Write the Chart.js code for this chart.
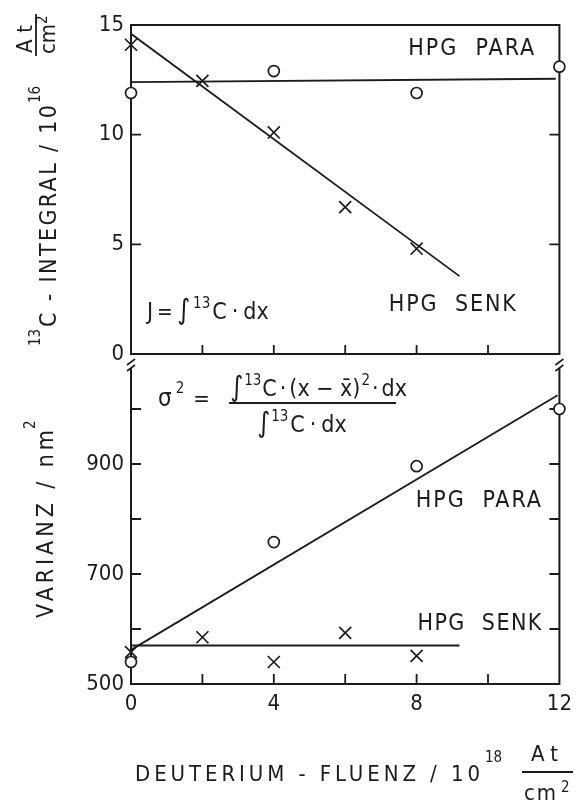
<!DOCTYPE html>
<html>
<head>
<meta charset="utf-8">
<script src="https://cdn.jsdelivr.net/npm/chart.js@4.4.1/dist/chart.umd.min.js"></script>
<style>
  html, body { margin: 0; background: #fff; }
  #wrap { width: 579px; height: 802px; }
</style>
</head>
<body>
<div id="wrap"><canvas id="chart" width="579" height="802"></canvas></div>
<script>
// fluence in 10^18 At/cm^2
const paraX = [0, 4, 8, 12];
const senkX = [0, 2, 4, 6, 8];

// 13C integral, 10^16 At/cm^2
const integralPara = [11.9, 12.9, 11.9, 13.1];
const integralSenk = [14.1, 12.45, 10.1, 6.7, 4.8];

// variance, nm^2
const varianzPara = [540, 758, 896, 1000];
const varianzSenk = [558, 585, 540, 593, 551];

// fitted lines (start / end)
const fitIntParaX = [0, 11.9],  fitIntParaY = [12.4, 12.55];
const fitIntSenkX = [0, 9.2],   fitIntSenkY = [14.6, 3.55];
const fitVarParaX = [0, 11.95], fitVarParaY = [562, 1025];
const fitVarSenkX = [0, 9.2],   fitVarSenkY = [570, 570];

// tick labels
const xTickLabels = [0, 4, 8, 12];
const yTopTickLabels = [0, 5, 10, 15];
const yBotTickLabels = [500, 700, 900];

const ink = '#1c1c1c';
const FONT = "'DejaVu Sans Condensed', 'DejaVu Sans', sans-serif";

const pts = (xs, ys) => xs.map((x, i) => ({ x: x, y: ys[i] }));

function markers(data, axis, style) {
  return {
    data: data, yAxisID: axis, showLine: false, clip: false,
    pointStyle: style, pointRadius: style === 'circle' ? 5.5 : 8.5,
    pointBorderWidth: 1.7, pointBorderColor: ink,
    pointBackgroundColor: '#fff'
  };
}
function fit(data, axis) {
  return {
    data: data, yAxisID: axis, showLine: true, pointRadius: 0,
    borderColor: ink, borderWidth: 1.8, tension: 0
  };
}

// text helpers
function fitText(ctx, str, x, y, w, font, align) {
  ctx.font = font;
  ctx.letterSpacing = '0px';
  const n = [...str].length;
  const nat = ctx.measureText(str).width;
  const ls = n > 1 ? (w - nat) / (n - 1) : 0;
  ctx.letterSpacing = ls + 'px';
  const left = align === 'center' ? x - w / 2 : (align === 'right' ? x - w : x);
  ctx.textAlign = 'left';
  ctx.fillText(str, left, y);
  ctx.letterSpacing = '0px';
}
function runs(ctx, list, x, y) {
  let cx = x;
  for (const r of list) {
    ctx.font = r.size + 'px ' + FONT;
    ctx.fillText(r.t, cx, y - (r.up || 0));
    cx += ctx.measureText(r.t).width + (r.gap || 0);
  }
  return cx - x;
}

// notes placed in data coordinates
const notes = [
  { text: 'HPG  PARA', x: 9.53, y: 14.0, axis: 'yTop', w: 126 },
  { text: 'HPG  SENK', x: 9.0,  y: 2.33, axis: 'yTop', w: 127 },
  { text: 'HPG  PARA', x: 9.73, y: 838,  axis: 'yBot', w: 125 },
  { text: 'HPG  SENK', x: 9.76, y: 613,  axis: 'yBot', w: 124 }
];

const framePlugin = {
  id: 'frame',
  beforeDatasetsDraw(chart) {
    const { ctx, scales } = chart;
    const x = scales.x, yT = scales.yTop, yB = scales.yBot;
    const xl = x.getPixelForValue(0), xr = x.getPixelForValue(12);
    const t0 = yT.getPixelForValue(0), t15 = yT.getPixelForValue(15);
    const b0 = yB.getPixelForValue(500), bTop = yB.top + 15;
    ctx.save();
    ctx.strokeStyle = ink;
    ctx.lineWidth = 2;
    ctx.lineCap = 'square';
    ctx.beginPath();
    // upper panel box
    ctx.moveTo(xl, t0); ctx.lineTo(xl, t15); ctx.lineTo(xr, t15); ctx.lineTo(xr, t0); ctx.lineTo(xl, t0);
    // lower panel
    ctx.moveTo(xl, bTop); ctx.lineTo(xl, b0); ctx.lineTo(xr, b0); ctx.lineTo(xr, bTop);
    ctx.stroke();
    // axis break marks
    ctx.lineWidth = 1.6;
    ctx.lineCap = 'butt';
    ctx.beginPath();
    [xl, xr].forEach(px => {
      ctx.moveTo(px - 4, t0 + 11); ctx.lineTo(px + 4, t0 + 5);
      ctx.moveTo(px - 4, t0 + 17); ctx.lineTo(px + 4, t0 + 11);
    });
    ctx.stroke();
    // inward ticks
    ctx.lineWidth = 1.8;
    ctx.beginPath();
    x.ticks.forEach(tk => {
      if (tk.value <= 0 || tk.value >= 12) return;
      const px = x.getPixelForValue(tk.value);
      ctx.moveTo(px, b0); ctx.lineTo(px, b0 - 10);
      ctx.moveTo(px, t0); ctx.lineTo(px, t0 - 9);
    });
    yT.ticks.forEach(tk => {
      if (tk.value <= 0 || tk.value >= 15) return;
      const py = yT.getPixelForValue(tk.value);
      ctx.moveTo(xl, py); ctx.lineTo(xl + 10, py);
      ctx.moveTo(xr, py); ctx.lineTo(xr - 10, py);
    });
    yB.ticks.forEach(tk => {
      if (tk.value <= 500 || tk.value > 1000) return;
      const py = yB.getPixelForValue(tk.value);
      ctx.moveTo(xl, py); ctx.lineTo(xl + 10, py);
      ctx.moveTo(xr, py); ctx.lineTo(xr - 10, py);
    });
    ctx.stroke();
    ctx.restore();
  },
  afterDraw(chart) {
    const { ctx, scales } = chart;
    const x = scales.x;
    ctx.save();
    ctx.fillStyle = ink;
    ctx.strokeStyle = ink;
    ctx.textBaseline = 'alphabetic';

    notes.forEach(n => {
      const px = x.getPixelForValue(n.x);
      const py = scales[n.axis].getPixelForValue(n.y);
      fitText(ctx, n.text, px, py + 8.5, n.w, '23px ' + FONT, 'center');
    });

    // J = integral 13C dx
    runs(ctx, [
      { t: 'J', size: 23, gap: 4 }, { t: '=', size: 21, gap: 4 },
      { t: '\u222B', size: 28, gap: 3 }, { t: '13', size: 15, up: 11, gap: 2 },
      { t: 'C', size: 23, gap: 5 }, { t: '\u00B7', size: 23, gap: 5 }, { t: 'dx', size: 23 }
    ], 147, 319);

    // sigma^2 = ...
    runs(ctx, [{ t: '\u03C3', size: 24, gap: 4 }, { t: '2', size: 15, up: 13, gap: 9 }, { t: '=', size: 22 }], 158, 406);
    runs(ctx, [
      { t: '\u222B', size: 28, gap: 1 }, { t: '13', size: 15, up: 11, gap: 1 },
      { t: 'C', size: 23, gap: 3 }, { t: '\u00B7', size: 23, gap: 3 },
      { t: '(x \u2212 x\u0304)', size: 23, gap: 1 }, { t: '2', size: 15, up: 11, gap: 2 },
      { t: '\u00B7', size: 23, gap: 3 }, { t: 'dx', size: 23 }
    ], 230, 396);
    ctx.lineWidth = 1.8;
    ctx.beginPath(); ctx.moveTo(229, 403); ctx.lineTo(396, 403); ctx.stroke();
    runs(ctx, [
      { t: '\u222B', size: 28, gap: 1 }, { t: '13', size: 15, up: 11, gap: 2 },
      { t: 'C', size: 23, gap: 5 }, { t: '\u00B7', size: 23, gap: 5 }, { t: 'dx', size: 23 }
    ], 257, 432);

    // x axis title
    fitText(ctx, 'DEUTERIUM - FLUENZ / 10', 135, 781, 345, '22px ' + FONT, 'left');
    ctx.font = '15px ' + FONT; ctx.fillText('18', 485, 762);
    fitText(ctx, 'At', 531, 761, 27, '22px ' + FONT, 'left');
    ctx.lineWidth = 1.8;
    ctx.beginPath(); ctx.moveTo(522, 772); ctx.lineTo(573, 772); ctx.stroke();
    fitText(ctx, 'cm', 524, 800, 32, '22px ' + FONT, 'left');
    ctx.font = '15px ' + FONT; ctx.fillText('2', 561, 792);

    // y axis titles (rotated, local x = -screenY, local y = screenX)
    ctx.save();
    ctx.rotate(-Math.PI / 2);
    fitText(ctx, 'C - INTEGRAL / 10', -327, 56, 222, '23px ' + FONT, 'left');
    ctx.font = '15px ' + FONT; ctx.fillText('13', -346, 40);
    ctx.font = '15px ' + FONT; ctx.fillText('16', -103, 40);
    fitText(ctx, 'At', -53, 32, 28, '22px ' + FONT, 'left');
    ctx.lineWidth = 1.8;
    ctx.beginPath(); ctx.moveTo(-56, 36); ctx.lineTo(-14, 36); ctx.stroke();
    fitText(ctx, 'cm', -54, 55, 30, '22px ' + FONT, 'left');
    ctx.font = '15px ' + FONT; ctx.fillText('2', -24, 47);

    fitText(ctx, 'VARIANZ / nm', -618, 53, 188, '23px ' + FONT, 'left');
    ctx.font = '15px ' + FONT; ctx.fillText('2', -429, 35);
    ctx.restore();

    ctx.restore();
  }
};

const tickFont = { family: FONT, size: 22 };

new Chart(document.getElementById('chart'), {
  type: 'scatter',
  data: {
    datasets: [
      fit(pts(fitIntParaX, fitIntParaY), 'yTop'),
      fit(pts(fitIntSenkX, fitIntSenkY), 'yTop'),
      fit(pts(fitVarParaX, fitVarParaY), 'yBot'),
      fit(pts(fitVarSenkX, fitVarSenkY), 'yBot'),
      markers(pts(paraX, integralPara), 'yTop', 'circle'),
      markers(pts(senkX, integralSenk), 'yTop', 'crossRot'),
      markers(pts(paraX, varianzPara), 'yBot', 'circle'),
      markers(pts(senkX, varianzSenk), 'yBot', 'crossRot')
    ]
  },
  options: {
    responsive: false,
    animation: false,
    devicePixelRatio: 1,
    layout: { padding: { top: 25, right: 15, left: 0, bottom: 0 } },
    plugins: { legend: { display: false }, tooltip: { enabled: false } },
    scales: {
      x: {
        type: 'linear', min: 0, max: 12,
        border: { display: false },
        grid: { display: false, drawTicks: false },
        ticks: {
          stepSize: 2, padding: 7, color: ink, font: tickFont, maxRotation: 0,
          callback: v => xTickLabels.includes(v) ? String(v) : ''
        },
        afterFit: s => { s.height = 118; }
      },
      // first axis of the stack is placed at the bottom
      yBot: {
        type: 'linear', position: 'left', stack: 'panels', stackWeight: 330,
        min: 500, max: 1100, offset: false,
        border: { display: false },
        grid: { display: false, drawTicks: false },
        ticks: {
          stepSize: 100, padding: 7, color: ink, font: tickFont,
          callback: v => yBotTickLabels.includes(v) ? String(v) : ''
        },
        afterFit: s => { s.width = 131; }
      },
      yTop: {
        type: 'linear', position: 'left', stack: 'panels', stackWeight: 329,
        min: 0, max: 15, offset: false,
        border: { display: false },
        grid: { display: false, drawTicks: false },
        ticks: {
          stepSize: 5, padding: 7, color: ink, font: tickFont,
          callback: v => yTopTickLabels.includes(v) ? String(v) : ''
        },
        afterFit: s => { s.width = 131; }
      }
    }
  },
  plugins: [framePlugin]
});
</script>
</body>
</html>
